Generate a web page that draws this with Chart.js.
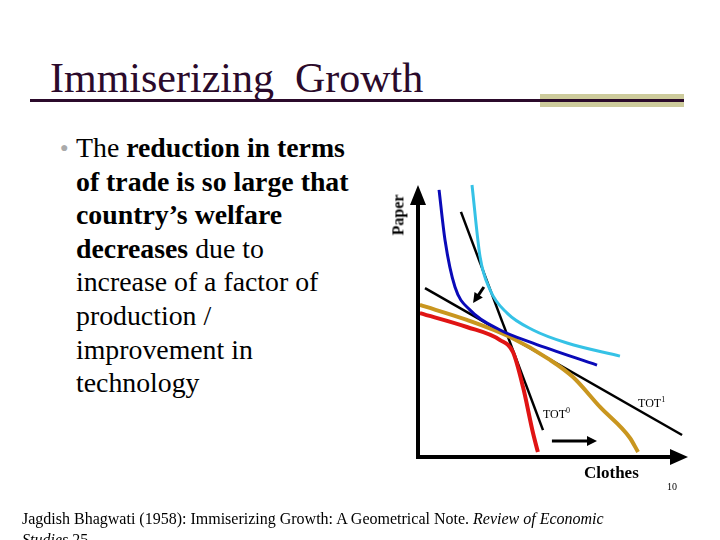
<!DOCTYPE html>
<html lang="en">
<head>
  <meta charset="UTF-8">
  <title>Immiserizing Growth</title>
  <script src="https://cdn.jsdelivr.net/npm/chart.js"></script>
  <style>
    body { margin: 0; background: #fff; font-family: "Liberation Serif", serif; }
    #slide { position: relative; width: 720px; height: 540px; overflow: hidden; }
    #myChart { position: absolute; left: 0; top: 0; }
    .title { position: absolute; left: 50px; top: 54px; font: 42px "Liberation Serif", serif; color: #2b0a2b; white-space: pre; }
    .rule { position: absolute; left: 30px; top: 99px; width: 654px; height: 3px; background: #2b0a2b; z-index: 2; }
    .block { position: absolute; left: 540px; top: 94px; width: 144px; height: 13px; background: #cdcb9c; }
    .bullet { position: absolute; left: 76px; top: 131px; white-space: nowrap; font: 27.8px/33.6px "Liberation Serif", serif; color: #000; }
    .dot { position: absolute; left: 60px; top: 131px; font: 14px/33.6px "Liberation Serif", serif; color: #aaa; }
    .cite { position: absolute; left: 22px; top: 508px; width: 600px; font: 16px/21px "Liberation Serif", serif; color: #000; }
    .pg { position: absolute; left: 667px; top: 481px; font: 10px "Liberation Serif", serif; }
    .ylab { position: absolute; left: 378px; top: 206px; font: bold 16px "Liberation Serif", serif; transform: rotate(-90deg); }
    .xlab { position: absolute; left: 584px; top: 463px; font: bold 17px "Liberation Serif", serif; }
  </style>
</head>
<body>
<div id="slide">
  <div class="title">Immiserizing  Growth</div>
  <div class="block"></div>
  <div class="rule"></div>
  <div class="dot">&#9679;</div>
  <div class="bullet">The <b>reduction in terms</b><br><b>of trade is so large that</b><br><b>country’s welfare</b><br><b>decreases</b> due to<br>increase of a factor of<br>production /<br>improvement in<br>technology</div>
  <canvas id="myChart" width="720" height="540"></canvas>
  <div class="ylab">Paper</div>
  <div class="xlab">Clothes</div>
  <div class="pg">10</div>
  <div class="cite">Jagdish Bhagwati (1958): Immiserizing Growth: A Geometrical Note. <i>Review of Economic Studies</i> 25</div>
</div>
<script>
// curves in axis units (clothes 0-100, paper 0-100)
const indiffHigh = [[20,100],[23,73.5],[26.7,61.4],[33,52.9],[42.6,46.7],[55.2,41.9],[74.8,37.1]];
const indiffLow = [[7.8,98.2],[10,79.8],[13.7,62.5],[19.3,54],[30.4,46.7],[42.6,41.9],[66.3,33.8]];
const tot0 = [[15.9,90.1],[46.3,9.9]];
const tot1 = [[2.6,62.1],[97.8,8.1]];
const ppfAfter = [[0.7,55.9],[18.1,50.4],[34.1,44.1],[48.9,35.7],[57.4,29.4],[67.4,18.4],[78.5,7],[81.5,1.8]];
const ppfBefore = [[0.7,52.9],[18.1,47.8],[30.4,43],[35.2,38.5],[38.9,25.7],[42.6,8.8],[44.4,1.8]];
const shiftArrows = [[[24.4,62.5],[20.4,56.6]], [[49.6,5.9],[66.3,5.9]]];
const totLabels = [['TOT', '0', 46.3, 14.3], ['TOT', '1', 81.5, 18.4]];

const pts = a => a.map(p => ({x: p[0], y: p[1]}));

function line(data, color, width, curved) {
  return {
    data: pts(data), showLine: true, borderColor: color, borderWidth: width,
    pointRadius: 0, tension: curved ? 0.4 : 0, cubicInterpolationMode: curved ? 'monotone' : 'default',
    fill: false, clip: false
  };
}

const axesPlugin = {
  id: 'axes',
  afterDatasetsDraw(chart) {
    const ctx = chart.ctx, a = chart.chartArea;
    const xs = chart.scales.x, ys = chart.scales.y;
    ctx.save();
    ctx.fillStyle = '#000';
    ctx.strokeStyle = '#000';
    // vertical axis
    ctx.lineWidth = 4;
    ctx.beginPath(); ctx.moveTo(a.left, a.bottom + 2); ctx.lineTo(a.left, a.top + 18); ctx.stroke();
    ctx.beginPath(); ctx.moveTo(a.left - 8, a.top + 20); ctx.lineTo(a.left, a.top); ctx.lineTo(a.left + 8, a.top + 20); ctx.closePath(); ctx.fill();
    // horizontal axis
    ctx.beginPath(); ctx.moveTo(a.left - 2, a.bottom); ctx.lineTo(a.right - 16, a.bottom); ctx.stroke();
    ctx.beginPath(); ctx.moveTo(a.right - 18, a.bottom - 8); ctx.lineTo(a.right, a.bottom); ctx.lineTo(a.right - 18, a.bottom + 8); ctx.closePath(); ctx.fill();
    // shift arrows
    ctx.lineWidth = 3;
    shiftArrows.forEach(s => {
      const x0 = xs.getPixelForValue(s[0][0]), y0 = ys.getPixelForValue(s[0][1]);
      const x1 = xs.getPixelForValue(s[1][0]), y1 = ys.getPixelForValue(s[1][1]);
      const ang = Math.atan2(y1 - y0, x1 - x0);
      ctx.beginPath(); ctx.moveTo(x0, y0); ctx.lineTo(x1 - 6 * Math.cos(ang), y1 - 6 * Math.sin(ang)); ctx.stroke();
      ctx.beginPath();
      ctx.moveTo(x1, y1);
      ctx.lineTo(x1 - 10 * Math.cos(ang) + 5 * Math.sin(ang), y1 - 10 * Math.sin(ang) - 5 * Math.cos(ang));
      ctx.lineTo(x1 - 10 * Math.cos(ang) - 5 * Math.sin(ang), y1 - 10 * Math.sin(ang) + 5 * Math.cos(ang));
      ctx.closePath(); ctx.fill();
    });
    // TOT labels
    ctx.textBaseline = 'alphabetic';
    totLabels.forEach(l => {
      const x = xs.getPixelForValue(l[2]), y = ys.getPixelForValue(l[3]);
      ctx.font = '12px "Liberation Serif"';
      ctx.fillText(l[0], x, y);
      const w = ctx.measureText(l[0]).width;
      ctx.font = '8px "Liberation Serif"';
      ctx.fillText(l[1], x + w, y - 5);
    });
    ctx.restore();
  }
};

new Chart(document.getElementById('myChart'), {
  type: 'scatter',
  data: {
    datasets: [
      line(indiffHigh, '#35c2e6', 3, true),
      line(indiffLow, '#0a0ab8', 3, true),
      line(ppfAfter, '#c9961f', 4, true),
      line(ppfBefore, '#e01414', 4, true),
      line(tot0, '#000000', 2.5, false),
      line(tot1, '#000000', 2.5, false)
    ]
  },
  options: {
    responsive: false,
    animation: false,
    layout: { padding: { left: 418, right: 32, top: 185, bottom: 83 } },
    plugins: { legend: { display: false }, tooltip: { enabled: false } },
    scales: {
      x: { type: 'linear', min: 0, max: 100, display: false },
      y: { type: 'linear', min: 0, max: 100, display: false }
    }
  },
  plugins: [axesPlugin]
});
</script>
</body>
</html>
